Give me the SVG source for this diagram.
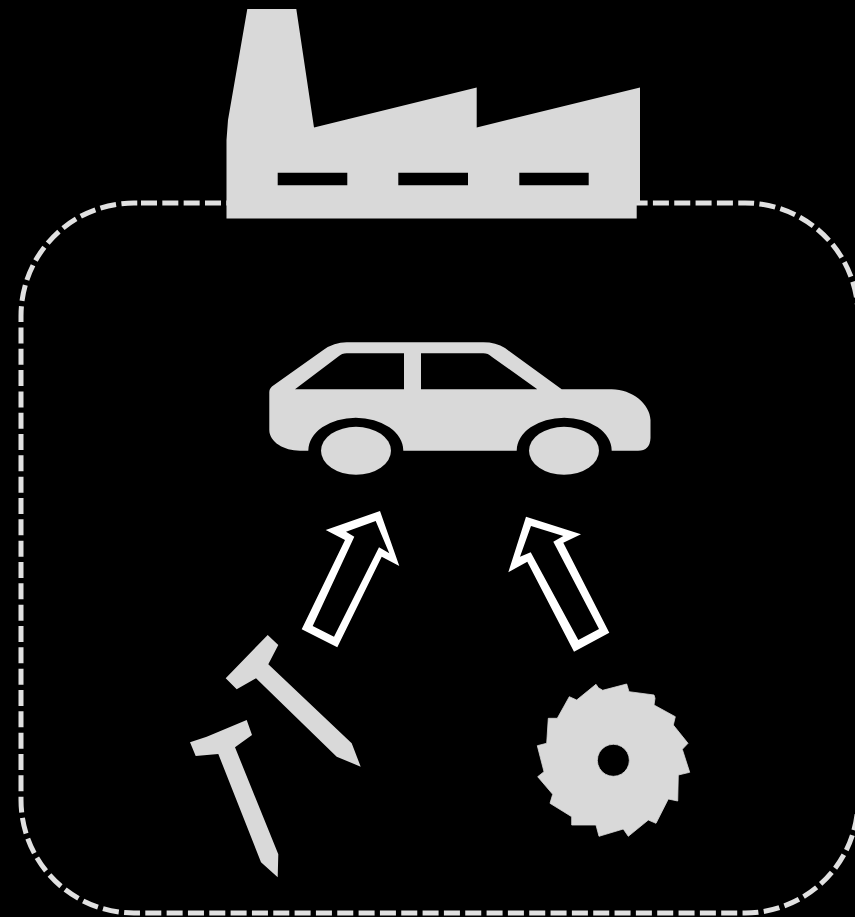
<svg xmlns="http://www.w3.org/2000/svg" width="855" height="917" viewBox="0 0 855 917">
<style>
.s{fill:#d9d9d9}
.a{fill:#fff;fill-rule:evenodd}
.b{fill:none;stroke:#e1e1e1;stroke-width:5;stroke-dasharray:16 5.33}
</style>
<rect width="855" height="917" fill="#000"/>
<g id="boundary"><path class="b" d="M141 203H745A113 113 0 0 1 858 316V800A113 113 0 0 1 745 913H134A113 113 0 0 1 21 800V316A113 113 0 0 1 134 203Z"/></g>
<g id="factory"><path class="s" fill-rule="evenodd" d="M247.3 9H296.3L314 127.5L476.7 87.5V127.5L640 87.5V203H636.7V218.5H226.5V140L228 120ZM277.7 172.7V185.3H347.3V172.7ZM398.3 172.7V185.3H468V172.7ZM519.3 172.7V185.3H588.7V172.7Z"/></g>
<g id="car"><path class="s" fill-rule="evenodd" d="M269.3 392Q269.3 388 274 385L323.3 350Q334 342.3 346.7 342.3H483.3Q496 342.3 505 348L561.7 389.3H611.7C632 389.3 650 404 650.5 420V438Q650 450.7 638 450.7H611.7A47.5 33 0 0 0 516.7 450.7H403.3A47.5 33 0 0 0 308.3 450.7H300C284 450.7 269.3 442 269.3 430ZM295 389.3H404V353.3H346.7Q342 353.3 338 356.7ZM421 353.3V389.3H537.3L491.7 356.7Q488 353.3 483.3 353.3Z"/><ellipse class="s" cx="356" cy="450.8" rx="35" ry="24"/><ellipse class="s" cx="564" cy="450.8" rx="35" ry="24"/></g>
<g id="nail-1"><polygon class="s" points="267.7,635 278.3,645 268.3,664.3 351.7,743.3 360.7,766.7 336.7,756.7 256,678.3 236.7,689.3 225.7,678.3"/></g>
<g id="nail-2"><polygon class="s" points="246.7,720 252,735 235,747.3 278.3,854.3 277.7,877.3 261,862.3 218.3,754 195.7,756 190,742.3 206.7,736.7"/></g>
<g id="saw"><path class="s" stroke="#d9d9d9" stroke-width="0.8" stroke-linejoin="round" fill-rule="evenodd" d="M596 684.3L598.3 687.7L602.7 690.3L626.7 684L629 691.7L654 695L655 698.3L654 705L675.3 716.7L673.3 725L688 743.3L682.3 749.3L689.7 772.3L678.3 775L677.7 801L668.3 799L656 823.3L648.3 820L628.3 836.3L623.3 829L599 836.3L596 825L571.7 825L571.7 816.7L550 803.3L552.7 794.3L537.7 776.7L544 771.7L537.3 745.7L546.7 743.3L548.3 718.3L557.3 718.3L569.3 696.7L576.7 700ZM613.3 744.3A16 16 0 1 0 613.4 744.3Z"/></g>
<g id="connectors">
<path class="a" d="M301.7 629.3L345 540L325.7 530L380 511L399.3 566L381.7 556.7L337.3 647.3ZM312.7 626L334 636.7L379 547.3L389.3 553.3L375.7 521L346 531.7L354.3 536.7Z"/>
<path class="a" d="M574 651.7L527.3 561.7L508.3 572.3L526 516.7L581 534.3L563.3 542.7L609.3 632.7ZM578.3 640L599 629L553.3 541.7L563.3 536L531 526L520 556.7L530.7 552.3Z"/>
</g>
</svg>
